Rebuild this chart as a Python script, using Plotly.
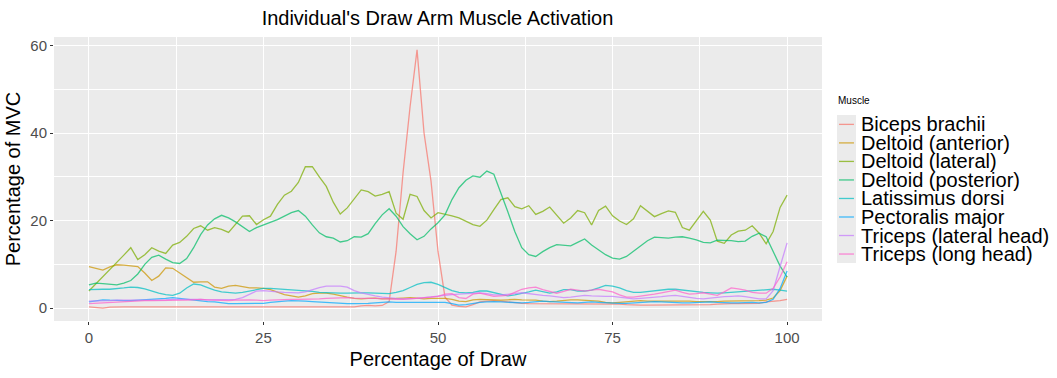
import plotly.graph_objects as go

# Percentage of the draw cycle (0-100 %)
draw_pct = list(range(0, 101))

muscles = [
    "Biceps brachii",
    "Deltoid (anterior)",
    "Deltoid (lateral)",
    "Deltoid (posterior)",
    "Latissimus dorsi",
    "Pectoralis major",
    "Triceps (lateral head)",
    "Triceps (long head)",
]

# ggplot2 default hue palette for eight groups
muscle_colors = ["#F8766D", "#CD9600", "#7CAE00", "#00BE67",
                 "#00BFC4", "#00A9FF", "#C77CFF", "#FF61CC"]

biceps_brachii = [
    0.3, 0.1, 0.0, 0.2, 0.3, 0.3, 0.3, 0.3, 0.3, 0.3,
    0.3, 0.3, 0.3, 0.3, 0.3, 0.3, 0.3, 0.3, 0.3, 0.3,
    0.3, 0.3, 0.3, 0.3, 0.3, 0.3, 0.3, 0.3, 0.3, 0.3,
    0.3, 0.3, 0.3, 0.3, 0.3, 0.3, 0.3, 0.3, 0.3, 0.5,
    0.6, 0.5, 0.6, 1.5, 13.0, 31.0, 46.0, 59.0, 40.0, 29.0,
    13.0, 2.5, 0.7, 0.4, 0.3, 0.8, 1.4, 1.6, 1.7, 1.6,
    1.4, 1.2, 1.1, 1.0, 1.0, 1.0, 1.0, 1.0, 1.0, 1.0,
    1.0, 1.0, 1.0, 1.0, 1.0, 1.0, 0.9, 0.8, 0.7, 0.7,
    0.7, 0.7, 0.7, 0.7, 0.7, 0.7, 0.7, 0.7, 0.7, 0.8,
    0.9, 1.0, 1.0, 1.0, 1.0, 1.0, 1.1, 1.4, 1.5, 1.7,
    2.0,
]

deltoid_anterior = [
    9.5, 9.1, 8.7, 9.4, 9.9, 9.8, 9.7, 9.5, 8.0, 6.3,
    7.3, 9.2, 9.1, 8.1, 7.0, 5.9, 6.0, 6.0, 4.8, 4.5,
    5.0, 5.2, 4.9, 4.6, 4.6, 4.5, 4.2, 3.6, 3.1, 2.8,
    2.5, 2.8, 3.3, 3.4, 3.4, 3.2, 2.8, 2.5, 2.2, 2.1,
    2.2, 2.3, 2.1, 2.1, 2.2, 2.3, 2.4, 2.3, 2.1, 2.2,
    2.2, 2.2, 2.0, 1.6, 1.5, 1.9, 2.0, 1.9, 1.8, 1.8,
    1.9, 2.0, 1.9, 1.9, 1.8, 1.6, 1.5, 1.6, 1.8, 1.9,
    1.9, 1.8, 1.7, 1.6, 1.3, 1.2, 1.3, 1.4, 1.6, 1.7,
    1.6, 1.6, 1.7, 1.7, 1.6, 1.6, 1.6, 1.5, 1.5, 1.4,
    1.5, 1.6, 1.6, 1.7, 1.7, 1.6, 1.7, 1.8, 2.3, 4.0,
    7.3,
]

deltoid_lateral = [
    3.9, 5.5, 7.2, 8.8, 10.4, 12.1, 13.8, 11.1, 12.2, 13.8,
    13.0, 12.5, 14.4, 15.0, 16.4, 18.2, 18.8, 17.8, 18.4, 18.0,
    17.3, 19.2, 21.0, 21.1, 19.1, 20.2, 21.0, 23.7, 25.8, 26.7,
    28.7, 32.3, 32.3, 30.0, 27.8, 24.2, 21.5, 22.9, 25.0, 27.0,
    26.6, 25.6, 26.0, 26.6, 21.7, 20.3, 26.0, 25.5, 22.3, 20.6,
    21.8, 21.5, 21.1, 20.6, 19.9, 19.1, 18.7, 20.1, 22.5, 24.8,
    25.2, 23.2, 22.7, 23.4, 21.4, 22.1, 23.1, 21.3, 19.4, 20.6,
    22.3, 21.8, 19.0, 22.3, 23.3, 21.1, 19.9, 19.1, 20.4, 23.4,
    22.1, 20.9, 21.6, 22.2, 21.9, 18.4, 17.8, 20.0, 22.1, 20.1,
    15.3, 14.8, 16.7, 17.6, 17.8, 18.8, 17.1, 14.7, 17.5, 23.0,
    25.8,
]

deltoid_posterior = [
    5.3, 5.7, 5.6, 5.4, 5.3, 5.7, 6.3, 7.8, 10.0, 11.6,
    12.1, 11.2, 10.4, 10.2, 11.3, 13.8, 16.8, 19.0, 20.4, 21.2,
    20.6, 19.7, 18.5, 17.5, 18.4, 19.0, 19.5, 20.2, 21.0, 21.8,
    22.3, 21.0, 19.0, 17.2, 16.3, 16.0, 15.1, 15.4, 16.3, 16.2,
    17.0, 19.3, 21.3, 22.7, 21.0, 18.6, 17.0, 15.6, 16.4, 18.1,
    19.5, 21.3, 24.8, 27.5, 29.2, 30.2, 29.9, 31.3, 30.6, 26.5,
    22.0, 17.5, 13.8, 12.2, 11.8, 12.9, 13.8, 14.5, 14.4, 14.2,
    15.0, 15.8, 14.4, 13.2, 12.2, 11.4, 11.2, 11.8, 12.9, 14.2,
    15.4, 16.2, 16.1, 16.0, 16.2, 16.3, 16.0, 15.6, 15.0, 14.9,
    15.5, 15.5, 15.4, 15.2, 15.3, 16.4, 17.1, 16.3, 12.9, 9.6,
    7.1,
]

latissimus_dorsi = [
    4.2, 4.3, 4.3, 4.3, 4.4, 4.6, 4.8, 4.7, 4.4, 3.9,
    3.4, 3.1, 2.9, 3.4, 4.6, 5.5, 5.3, 4.7, 4.1, 3.7,
    3.5, 3.4, 3.6, 3.9, 4.2, 4.5, 4.5, 4.4, 4.3, 4.2,
    4.0, 3.9, 3.8, 3.6, 3.5, 3.4, 3.4, 3.4, 3.5, 3.5,
    3.5, 3.4, 3.3, 3.3, 3.6, 4.0, 4.7, 5.4, 5.8, 5.9,
    5.4, 4.7, 4.0, 3.6, 3.5, 3.6, 3.9, 3.9, 3.5, 3.1,
    2.8, 3.0, 3.3, 3.7, 4.1, 3.8, 3.4, 3.7, 4.2, 4.2,
    3.9, 3.9, 4.1, 4.6, 5.2, 5.0, 4.6, 4.0, 3.6, 3.6,
    3.8, 3.9, 4.1, 4.3, 4.3, 4.1, 3.9, 3.7, 3.6, 3.5,
    3.4, 3.5, 3.6, 3.7, 3.8, 4.0, 4.1, 4.2, 4.3, 4.1,
    3.9,
]

pectoralis_major = [
    1.4, 1.7, 1.9, 1.8, 1.7, 1.7, 1.7, 1.8, 1.8, 1.9,
    2.0, 2.2, 2.4, 2.2, 2.0, 1.9, 1.7, 1.5, 1.4, 1.2,
    1.0, 1.0, 1.0, 1.0, 1.0, 1.1, 1.3, 1.5, 1.6, 1.7,
    1.7, 1.6, 1.5, 1.4, 1.3, 1.2, 1.0, 1.0, 1.0, 1.0,
    1.1, 1.2, 1.3, 1.4, 1.3, 1.3, 1.3, 1.3, 1.3, 1.4,
    1.4, 1.3, 1.0, 0.7, 0.8, 1.1, 1.3, 1.4, 1.5, 1.4,
    1.3, 1.2, 1.2, 1.3, 1.5, 1.6, 1.5, 1.4, 1.3, 1.2,
    1.2, 1.3, 1.4, 1.3, 1.2, 1.2, 1.1, 1.1, 1.2, 1.3,
    1.4, 1.5, 1.4, 1.3, 1.2, 1.2, 1.2, 1.3, 1.4, 1.4,
    1.3, 1.2, 1.2, 1.2, 1.3, 1.3, 1.2, 1.3, 2.0, 4.5,
    8.5,
]

triceps_lateral_head = [
    1.6, 1.6, 1.7, 1.7, 1.8, 1.8, 1.9, 1.9, 1.8, 1.8,
    1.8, 1.9, 2.0, 2.0, 2.0, 2.1, 2.0, 1.9, 1.9, 1.9,
    1.9, 2.0, 2.4, 3.2, 3.9, 4.0, 3.8, 3.7, 3.6, 3.6,
    3.5, 3.7, 4.2, 4.7, 5.0, 5.0, 5.0, 4.8, 4.0, 3.5,
    3.1, 2.8, 2.5, 2.3, 2.2, 2.1, 2.1, 2.2, 2.4, 2.6,
    2.8, 2.9, 3.1, 3.2, 3.3, 3.4, 3.5, 3.3, 3.0, 3.0,
    3.1, 3.3, 3.5, 3.3, 3.0, 2.9, 2.8, 2.6, 2.4, 2.5,
    2.7, 2.9, 2.8, 2.7, 2.7, 2.7, 2.5, 2.3, 2.1, 2.2,
    2.3, 2.4, 2.6, 2.8, 2.9, 2.7, 2.4, 2.2, 2.1, 2.3,
    2.5, 2.6, 2.7, 2.8, 2.6, 2.3, 2.1, 2.1, 4.0, 9.5,
    14.9,
]

triceps_long_head = [
    1.0, 1.1, 1.2, 1.3, 1.4, 1.4, 1.5, 1.6, 1.7, 1.7,
    1.7, 1.7, 1.7, 1.7, 1.8, 1.9, 2.0, 1.9, 1.8, 1.7,
    1.7, 1.8, 1.9, 1.9, 1.8, 1.7, 1.8, 1.9, 2.0, 2.0,
    2.0, 2.0, 2.0, 2.1, 2.2, 2.3, 2.4, 2.4, 2.3, 2.2,
    2.2, 2.2, 2.1, 2.0, 2.0, 2.0, 2.1, 2.2, 2.3, 2.5,
    2.7, 3.2, 3.3, 2.4, 2.2, 3.2, 3.4, 3.0, 2.7, 2.8,
    2.9, 3.6, 4.3, 4.6, 4.8, 4.2, 3.8, 3.4, 3.8, 4.3,
    4.1, 3.9, 4.1, 4.3, 4.0, 3.7, 3.0, 2.5, 2.5, 2.7,
    2.9, 3.2, 3.5, 3.8, 4.1, 3.6, 3.2, 3.3, 3.5, 3.2,
    2.9, 3.7, 4.6, 4.4, 4.1, 3.6, 3.4, 3.4, 4.5, 7.1,
    10.6,
]

series = [biceps_brachii, deltoid_anterior, deltoid_lateral, deltoid_posterior,
          latissimus_dorsi, pectoralis_major, triceps_lateral_head, triceps_long_head]

x_ticks = [0, 25, 50, 75, 100]
y_ticks = [0, 20, 40, 60]

FONT = "Arial, Liberation Sans, sans-serif"
W, H = 1057, 378
M_L, M_R, M_T, M_B = 53, 235, 37, 42

fig = go.Figure()
for name, values, color in zip(muscles, series, muscle_colors):
    fig.add_trace(go.Scatter(
        x=draw_pct, y=values, name=name, mode="lines",
        line=dict(color=color, width=1.3), opacity=0.72,
        showlegend=False,
    ))

# Hand-built legend in ggplot style: grey key column, short line keys, labels
plot_w = W - M_L - M_R
plot_h = H - M_T - M_B


def px_x(p):
    return (p - M_L) / plot_w


def px_y(p):
    return (H - M_B - p) / plot_h


shapes = [dict(type="rect", xref="paper", yref="paper",
               x0=px_x(837), x1=px_x(856), y0=px_y(119), y1=px_y(275),
               fillcolor="#EBEBEB", line=dict(width=0), layer="below")]
annotations = [dict(text="Muscle", xref="paper", yref="paper",
                    x=px_x(836), y=px_y(104), xanchor="left", yanchor="middle",
                    showarrow=False, font=dict(family=FONT, size=10, color="black"))]
for i, (name, color) in enumerate(zip(muscles, muscle_colors)):
    cy = 129 + i * 19.5
    shapes.append(dict(type="line", xref="paper", yref="paper",
                       x0=px_x(839), x1=px_x(854), y0=px_y(cy), y1=px_y(cy),
                       line=dict(color=color, width=1.3), opacity=0.72))
    annotations.append(dict(text=name, xref="paper", yref="paper",
                            x=px_x(859), y=px_y(cy), xanchor="left", yanchor="middle",
                            showarrow=False,
                            font=dict(family=FONT, size=20, color="black")))

axis_common = dict(
    showgrid=True, gridcolor="white", gridwidth=1.2, zeroline=False,
    ticks="outside", ticklen=3, tickcolor="#333333", tickwidth=1,
    tickfont=dict(family=FONT, size=15, color="#4D4D4D"),
    showline=False,
)

fig.update_layout(
    width=W, height=H,
    margin=dict(l=M_L, r=M_R, t=M_T, b=M_B, pad=0),
    paper_bgcolor="white", plot_bgcolor="#EBEBEB",
    title=dict(text="Individual's Draw Arm Muscle Activation",
               x=px_x(437), xref="paper", xanchor="center",
               y=1 - 18 / H, yanchor="middle",
               font=dict(family=FONT, size=20, color="black")),
    xaxis=dict(range=[-5, 105], tickvals=x_ticks,
               ticktext=[str(v) for v in x_ticks],
               minor=dict(tickvals=[12.5, 37.5, 62.5, 87.5], showgrid=True,
                          gridcolor="white", gridwidth=0.6, ticks=""),
               title=dict(text="Percentage of Draw", standoff=6,
                          font=dict(family=FONT, size=20, color="black")),
               **axis_common),
    yaxis=dict(range=[-2.95, 61.95], tickvals=y_ticks,
               ticktext=[str(v) for v in y_ticks],
               minor=dict(tickvals=[10, 30, 50], showgrid=True,
                          gridcolor="white", gridwidth=0.6, ticks=""),
               title=dict(text="Percentage of MVC", standoff=4,
                          font=dict(family=FONT, size=20, color="black")),
               **axis_common),
    shapes=shapes,
    annotations=annotations,
)

fig.write_html("out.html")
